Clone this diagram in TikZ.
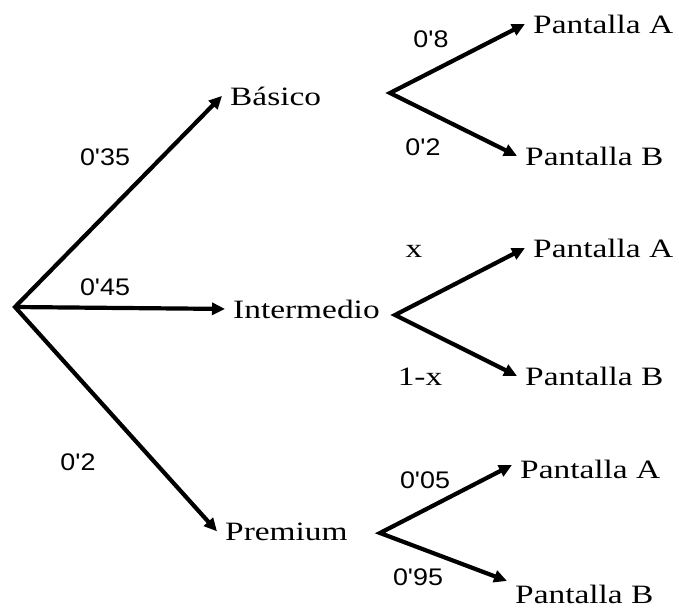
\documentclass[tikz,border=0pt]{standalone}
\usepackage{fontspec}
\setmainfont{Liberation Serif}[FakeStretch=1.26]
\newfontfamily\lblfont{Liberation Sans}[FakeStretch=1.12]
\usetikzlibrary{arrows.meta}
\begin{document}
\begin{tikzpicture}[x=1pt,y=-1pt,
  br/.style={line width=4.2pt,line join=miter,-{Triangle[length=13pt,width=12pt]}},
  brtwo/.style={line width=4.2pt,line join=miter,{Triangle[length=13pt,width=12pt]}-{Triangle[length=13pt,width=12pt]}},
  outc/.style={font=\fontsize{26.5}{30}\selectfont,inner xsep=8pt,inner ysep=0pt,anchor=base west},
  prob/.style={font=\lblfont\fontsize{24}{28}\selectfont,inner sep=0pt,anchor=base},
  probs/.style={font=\fontsize{26.5}{30}\selectfont,inner sep=0pt,anchor=base}]
\path[use as bounding box,fill=white] (0,0) rectangle (679,608);

% first level
\coordinate (root) at (15,307);
\node[outc] (bas) at (222,105) {Básico};
\node[outc] (int) at (225,318) {Intermedio};
\node[outc] (pre) at (217,540) {Premium};
\draw[brtwo] (bas.west) -- (root) -- (pre.west);
\draw[br] (root) -- (int.west);
\node[prob] (l35) at (105,165) {0'35};
\node[prob] (l45) at (105,295) {0'45};
\node[prob] (l20) at (78,470) {0'2};

% Basico branch
\coordinate (vb) at (390,93);
\node[outc] (bpa) at (525,33) {Pantalla A};
\node[outc] (bpb) at (517,165) {Pantalla B};
\draw[brtwo] (bpa.west) -- (vb) -- (bpb.west);
\node[prob] (l08) at (431,47) {0'8};
\node[prob] (l02) at (423,155) {0'2};

% Intermedio branch
\coordinate (vi) at (395,315);
\node[outc] (ipa) at (525,257) {Pantalla A};
\node[outc] (ipb) at (517,385) {Pantalla B};
\draw[brtwo] (ipa.west) -- (vi) -- (ipb.west);
\node[probs] (lx) at (414,257) {x};
\node[probs] (l1x) at (420,385) {1-x};

% Premium branch
\coordinate (vp) at (380,533);
\node[outc] (ppa) at (512,478) {Pantalla A};
\node[outc] (ppb) at (507,603) {Pantalla B};
\draw[brtwo] ([yshift=4pt]ppa.west) -- (vp) -- ([yshift=13pt]ppb.west);
\node[prob] (l005) at (425,488) {0'05};
\node[prob] (l095) at (418,585) {0'95};
\end{tikzpicture}
\end{document}
